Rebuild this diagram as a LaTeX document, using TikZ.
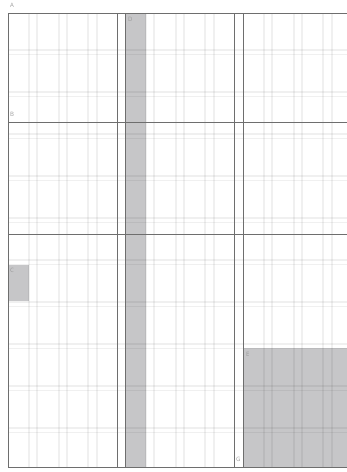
\documentclass[tikz,border=0pt]{standalone}
\usepackage{fontspec}
\setsansfont{Open Sans}
\usepackage{xcolor}
\usetikzlibrary{positioning, calc}

\definecolor{fieldgray}{HTML}{C6C6C8}
\definecolor{rulegray}{HTML}{6E6E6E}
\definecolor{labelgray}{HTML}{9A9A9A}

\tikzset{
    gridline/.style={draw=black, opacity=0.06, line width=1.3pt},
    colrule/.style={draw=rulegray, line width=1pt},
    fieldlabel/.style={font=\sffamily\fontsize{6}{7}\selectfont, text=labelgray, inner sep=0pt, anchor=north west}
}

\begin{document}
\begin{tikzpicture}[x=1pt, y=-1pt]
    \useasboundingbox (0,0) rectangle (347,472);
    \clip (0,0) rectangle (347,472);

    % shaded fields
    \fill[fieldgray] (8,265) rectangle (29,301);
    \fill[fieldgray] (125,13.5) rectangle (146,467.5);
    \fill[fieldgray] (243,348) rectangle (360,467.5);

    % module lines (vertical)
    \foreach \c in {8,125,243} {
        \foreach \m in {21,29,51,59,80,89} {
            \draw[gridline] (\c+\m,13.5) -- (\c+\m,467.5);
        }
    }
    % module lines (horizontal)
    \foreach \k in {0,...,9} {
        \draw[gridline] (8,50+42*\k) -- (360,50+42*\k);
        \draw[gridline] (8,54.5+42*\k) -- (360,54.5+42*\k);
    }

    % columns and rows
    \foreach \x in {8,117,125,234,243} {
        \draw[colrule] (\x,13.5) -- (\x,467.5);
    }
    \draw[colrule] (8,13.5) -- (360,13.5);
    \draw[colrule, line width=0.8pt] (8,122) -- (360,122);
    \draw[colrule, line width=0.8pt] (8,234) -- (360,234);
    \draw[colrule] (8,467.5) -- (360,467.5);

    % labels
    \node[fieldlabel] (lblA) at (10,3) {A};
    \node[fieldlabel] (lblB) at (10,112) {B};
    \node[fieldlabel] (lblC) at (10,268) {C};
    \node[fieldlabel] (lblD) at (128,17) {D};
    \node[fieldlabel] (lblE) at (246,352) {E};
    \node[fieldlabel] (lblG) at (236,457) {G};
\end{tikzpicture}
\end{document}
